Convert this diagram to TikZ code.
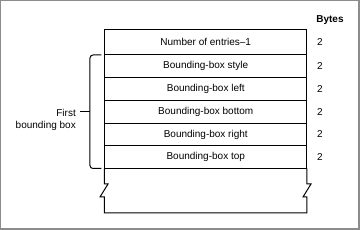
\documentclass[tikz,border=0pt]{standalone}
\usepackage{fontspec}
\setmainfont{Liberation Sans}
\usetikzlibrary{positioning}
\definecolor{FrameGray}{HTML}{8C8C8C}

\begin{document}
\begin{tikzpicture}[
  x=1pt, y=-1pt,
  font=\fontsize{10}{12}\selectfont,
  field/.style={draw, line width=1pt, minimum width=202.5pt, minimum height=22.7pt,
    inner sep=0pt, outer sep=0pt, align=center},
  size/.style={inner sep=0pt},
  rule/.style={line width=1pt}
]
\useasboundingbox (0,0) rectangle (360,230);
\draw[FrameGray, line width=1pt] (0.5,0.5) rectangle (358.5,228.5);
\draw[FrameGray, line width=2.5pt] (358.8,0) -- (358.8,228.8) -- (0,228.8);

\node[font=\fontsize{10}{12}\selectfont\bfseries] (bytes) at (330,20) {Bytes};

\node[field, minimum height=25.5pt] (count) at (205.75,42.25) {Number of entries--1};
\node[field, below=0pt of count] (style) {Bounding-box style};
\node[field, below=0pt of style] (left) {Bounding-box left};
\node[field, below=0pt of left] (bottom) {Bounding-box bottom};
\node[field, below=0pt of bottom] (right) {Bounding-box right};
\node[field, below=0pt of right] (top) {Bounding-box top};

\foreach \r in {count,style,left,bottom,right,top}
  \node[size] (\r-size) at ([xshift=13pt]\r.east) {2};

% open end of the record
\draw[rule] (top.south west) -- ++(0,15.5) -- ++(3.5,0) -- ++(-8,13) -- ++(4.5,0)
  |- (104.5,213) -| ([yshift=-44.5pt]top.south east) -- ++(0,-16) -- ++(-4,0)
  -- ++(8,-13) -- ++(-4,0) -- (top.south east);

% brace
\draw[rule, rounded corners=3pt] ([xshift=-3pt]style.north west)
  -| ([xshift=-14.5pt]top.south west) -- ([xshift=-3pt]top.south west);
\path ([xshift=-14.5pt]style.north west) -- ([xshift=-14.5pt]top.south west)
  coordinate[midway] (bracemid);
\coordinate (tickend) at ([xshift=-10pt]bracemid);
\draw[rule] (bracemid) -- (tickend);
\node[anchor=base east, align=right, inner sep=0pt] (first)
  at ([xshift=-4pt, yshift=-16.75pt]tickend) {First\\bounding box};

\end{tikzpicture}
\end{document}
